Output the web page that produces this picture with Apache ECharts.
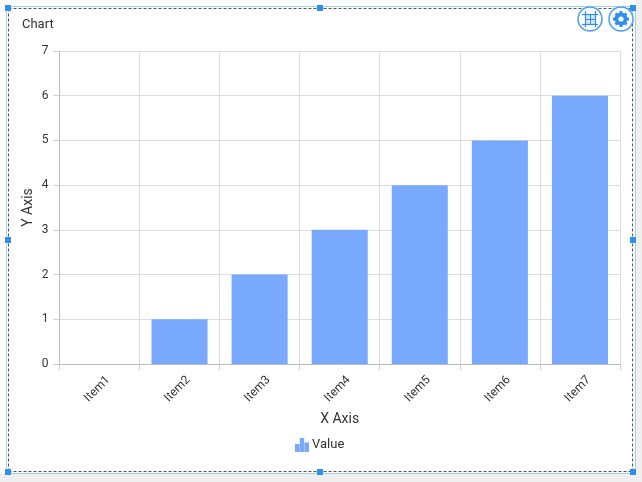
<!DOCTYPE html>
<html>
<head>
<meta charset="utf-8">
<style>
html, body { margin: 0; padding: 0; background: #fff; }
#chart { width: 642px; height: 482px; }
</style>
<script src="https://cdn.jsdelivr.net/npm/echarts@6/dist/echarts.min.js"></script>
</head>
<body>
<div id="chart"></div>
<script>
var categories = ['Item1', 'Item2', 'Item3', 'Item4', 'Item5', 'Item6', 'Item7'];
var values = [0, 1, 2, 3, 4, 5, 6];
var legendName = 'Value';

var blue = '#2f8ff0';
var barColor = '#78a9fd';
var textColor = '#333';

var chart = echarts.init(document.getElementById('chart'));

// small square handles on the selection frame
function handle(x, y) {
    return {type: 'rect', silent: true, z: 20, shape: {x: x - 3, y: y - 3, width: 6, height: 6}, style: {fill: blue}};
}
function frameLine(x1, y1, x2, y2, dashed) {
    return {
        type: 'line', silent: true, z: 10,
        shape: {x1: x1, y1: y1, x2: x2, y2: y2},
        style: dashed ? {stroke: '#555', lineWidth: 1, lineDash: [3, 2]} : {stroke: '#9fd0ee', lineWidth: 1}
    };
}
function circleBtn(cx, cy) {
    return {type: 'circle', silent: true, z: 15, shape: {cx: cx, cy: cy, r: 12}, style: {fill: '#fff', stroke: '#4a9df0', lineWidth: 1.5}};
}
function iconLine(x1, y1, x2, y2, width) {
    return {type: 'line', silent: true, z: 17, shape: {x1: x1, y1: y1, x2: x2, y2: y2}, style: {stroke: blue, lineWidth: width}};
}

var graphics = [
    // grey strips outside of the frame
    {type: 'rect', silent: true, z: 0, shape: {x: 0, y: 474, width: 642, height: 8}, style: {fill: '#efefef'}},
    {type: 'rect', silent: true, z: 0, shape: {x: 636, y: 0, width: 6, height: 482}, style: {fill: '#efefef'}},
    frameLine(6.5, 6.5, 635.5, 6.5),
    frameLine(6.5, 6.5, 6.5, 473.5),
    frameLine(635.5, 6.5, 635.5, 473.5),
    frameLine(6.5, 473.5, 635.5, 473.5),
    frameLine(8.5, 8.5, 632.5, 8.5, true),
    frameLine(8.5, 8.5, 8.5, 471.5, true),
    frameLine(632.5, 8.5, 632.5, 471.5, true),
    frameLine(8.5, 471.5, 632.5, 471.5, true),
    handle(8, 8), handle(320, 8), handle(633, 8),
    handle(8, 240), handle(633, 240),
    handle(8, 472), handle(320, 472), handle(633, 472),
    // toolbar buttons
    circleBtn(590, 19),
    circleBtn(621, 19),
    // grid icon
    {type: 'rect', silent: true, z: 16, shape: {x: 585, y: 14, width: 10, height: 10}, style: {fill: '#d4e8fb'}},
    iconLine(582, 14.5, 598, 14.5, 1.2),
    iconLine(582, 24.5, 598, 24.5, 1.2),
    iconLine(585.5, 11, 585.5, 27, 1.2),
    iconLine(595.5, 11, 595.5, 27, 1.2),
    iconLine(586, 19.5, 595, 19.5, 1),
    iconLine(590.5, 15, 590.5, 24, 1),
    // gear icon
    {type: 'circle', silent: true, z: 16, shape: {cx: 621, cy: 19, r: 6.5}, style: {fill: blue}},
    iconLine(621, 11, 621, 27, 3),
    iconLine(613, 19, 629, 19, 3),
    iconLine(615.5, 13.5, 626.5, 24.5, 3),
    iconLine(626.5, 13.5, 615.5, 24.5, 3),
    {type: 'circle', silent: true, z: 18, shape: {cx: 621, cy: 19, r: 2.6}, style: {fill: '#fff'}}
];

var option = {
    animation: false,
    backgroundColor: '#fff',
    textStyle: {fontFamily: 'Roboto'},
    title: {
        text: 'Chart',
        left: 17,
        top: 13,
        textStyle: {fontSize: 13, fontWeight: 'normal', color: textColor}
    },
    legend: {
        bottom: 25,
        left: 290,
        itemWidth: 14,
        itemHeight: 14,
        itemGap: 5,
        icon: 'path://M0 6H4.5V14H0ZM4.8 0H9.2V14H4.8ZM9.5 4.5H14V14H9.5Z',
        textStyle: {fontSize: 13, color: textColor, padding: [0, 0, 0, -2]},
        data: [legendName]
    },
    grid: {left: 59.4, right: 22, top: 51, bottom: 118, containLabel: false},
    xAxis: {
        type: 'category',
        data: categories,
        name: 'X Axis',
        nameLocation: 'middle',
        nameGap: 48,
        nameTextStyle: {fontSize: 14, color: textColor},
        axisLine: {lineStyle: {color: '#bbb'}},
        axisTick: {show: true, alignWithLabel: false, length: 6, lineStyle: {color: '#ccc'}},
        axisLabel: {rotate: 45, fontSize: 12, color: textColor, margin: 23, align: 'center', verticalAlign: 'middle', padding: [0, 6, 0, 0]},
        splitLine: {show: true, lineStyle: {color: '#ddd'}}
    },
    yAxis: {
        type: 'value',
        min: 0,
        max: 7,
        interval: 1,
        name: 'Y Axis',
        nameLocation: 'middle',
        nameGap: 24,
        nameMoveOverlap: false,
        nameTextStyle: {fontSize: 14, color: textColor},
        axisLine: {show: true, lineStyle: {color: '#bbb'}},
        axisTick: {show: true, length: 6, lineStyle: {color: '#ccc'}},
        axisLabel: {fontSize: 12, color: textColor, margin: 11},
        splitLine: {show: true, lineStyle: {color: '#ddd'}}
    },
    series: [{
        name: legendName,
        type: 'bar',
        data: values,
        barWidth: '70%',
        itemStyle: {color: barColor}
    }],
    graphic: graphics
};

chart.setOption(option);
</script>
</body>
</html>
